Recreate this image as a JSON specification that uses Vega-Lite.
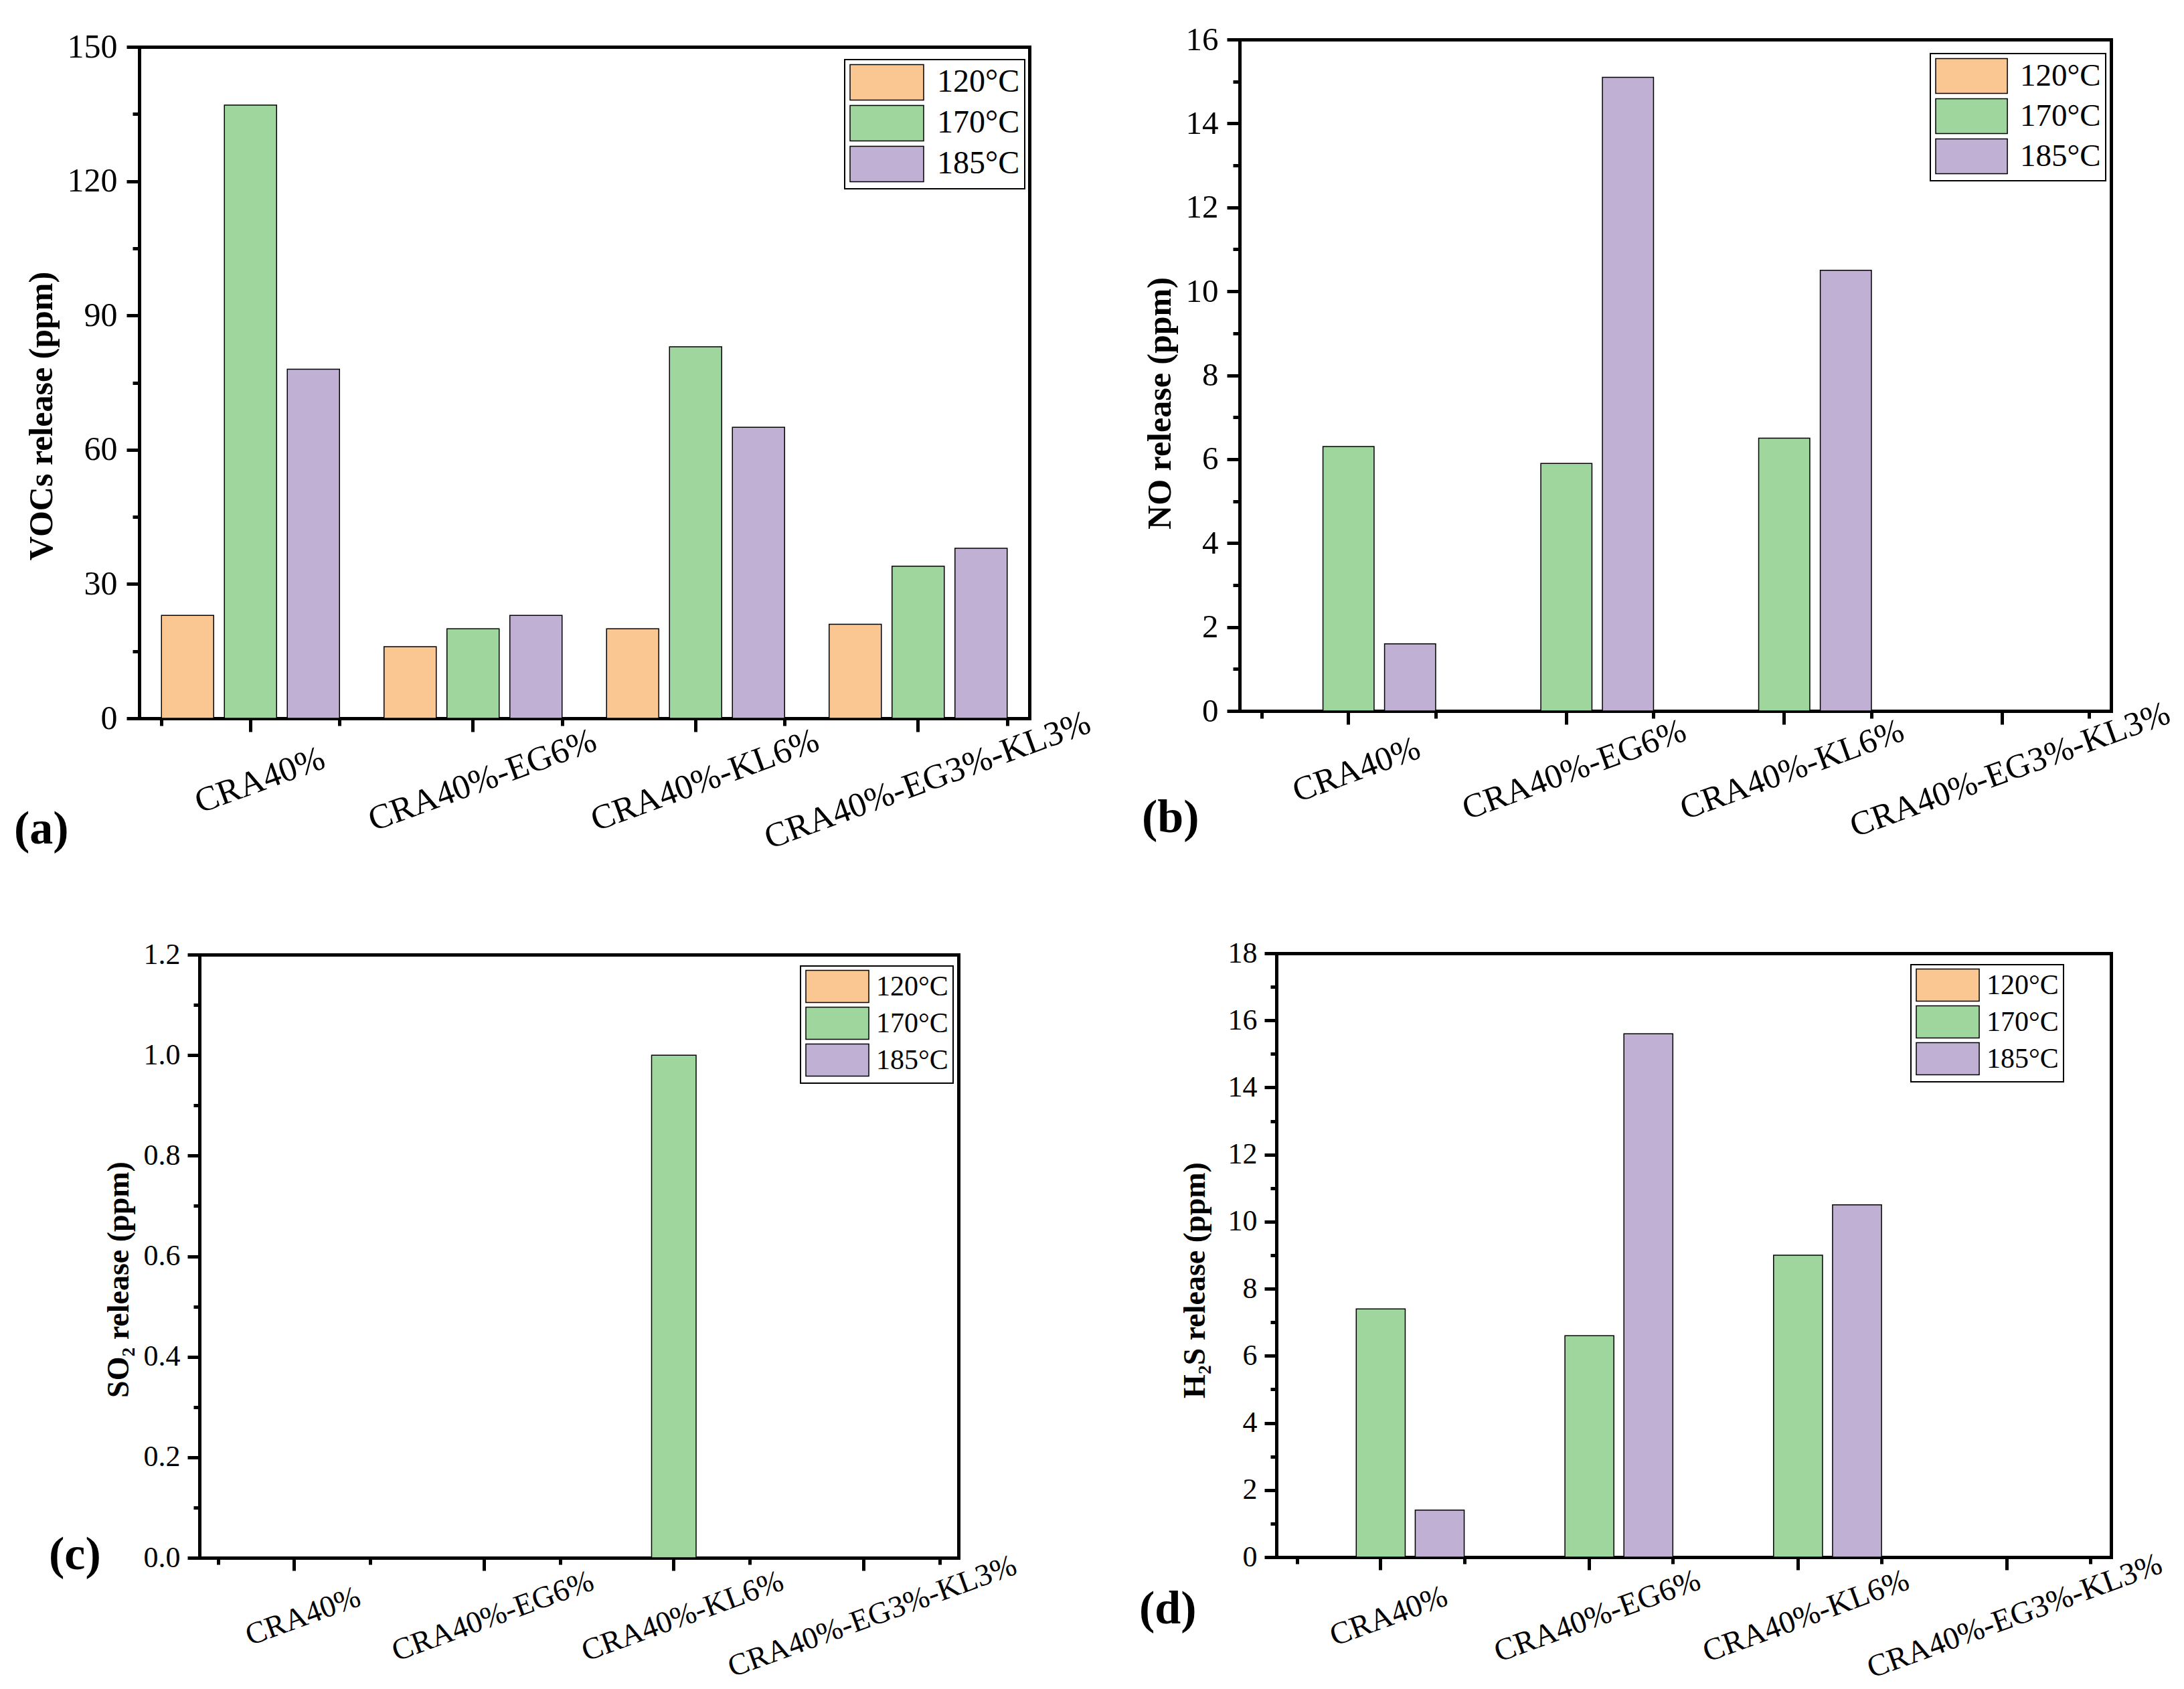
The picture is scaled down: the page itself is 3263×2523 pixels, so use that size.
{
  "$schema": "https://vega.github.io/schema/vega-lite/v6.json",
  "background": "white",
  "padding": {"left": 208, "top": 59, "right": 3055, "bottom": 2464},
  "autosize": {"type": "none"},
  "datasets": {
    "voc": [
      {"cat": "CRA40%", "temp": "120°C", "v": 23},
      {"cat": "CRA40%", "temp": "170°C", "v": 137},
      {"cat": "CRA40%", "temp": "185°C", "v": 78},
      {"cat": "CRA40%-EG6%", "temp": "120°C", "v": 16},
      {"cat": "CRA40%-EG6%", "temp": "170°C", "v": 20},
      {"cat": "CRA40%-EG6%", "temp": "185°C", "v": 23},
      {"cat": "CRA40%-KL6%", "temp": "120°C", "v": 20},
      {"cat": "CRA40%-KL6%", "temp": "170°C", "v": 83},
      {"cat": "CRA40%-KL6%", "temp": "185°C", "v": 65},
      {"cat": "CRA40%-EG3%-KL3%", "temp": "120°C", "v": 21},
      {"cat": "CRA40%-EG3%-KL3%", "temp": "170°C", "v": 34},
      {"cat": "CRA40%-EG3%-KL3%", "temp": "185°C", "v": 38}
    ],
    "no": [
      {"cat": "CRA40%", "temp": "120°C", "v": 0},
      {"cat": "CRA40%", "temp": "170°C", "v": 6.3},
      {"cat": "CRA40%", "temp": "185°C", "v": 1.6},
      {"cat": "CRA40%-EG6%", "temp": "120°C", "v": 0},
      {"cat": "CRA40%-EG6%", "temp": "170°C", "v": 5.9},
      {"cat": "CRA40%-EG6%", "temp": "185°C", "v": 15.1},
      {"cat": "CRA40%-KL6%", "temp": "120°C", "v": 0},
      {"cat": "CRA40%-KL6%", "temp": "170°C", "v": 6.5},
      {"cat": "CRA40%-KL6%", "temp": "185°C", "v": 10.5},
      {"cat": "CRA40%-EG3%-KL3%", "temp": "120°C", "v": 0},
      {"cat": "CRA40%-EG3%-KL3%", "temp": "170°C", "v": 0},
      {"cat": "CRA40%-EG3%-KL3%", "temp": "185°C", "v": 0}
    ],
    "so2": [
      {"cat": "CRA40%", "temp": "120°C", "v": 0},
      {"cat": "CRA40%", "temp": "170°C", "v": 0},
      {"cat": "CRA40%", "temp": "185°C", "v": 0},
      {"cat": "CRA40%-EG6%", "temp": "120°C", "v": 0},
      {"cat": "CRA40%-EG6%", "temp": "170°C", "v": 0},
      {"cat": "CRA40%-EG6%", "temp": "185°C", "v": 0},
      {"cat": "CRA40%-KL6%", "temp": "120°C", "v": 0},
      {"cat": "CRA40%-KL6%", "temp": "170°C", "v": 1.0},
      {"cat": "CRA40%-KL6%", "temp": "185°C", "v": 0},
      {"cat": "CRA40%-EG3%-KL3%", "temp": "120°C", "v": 0},
      {"cat": "CRA40%-EG3%-KL3%", "temp": "170°C", "v": 0},
      {"cat": "CRA40%-EG3%-KL3%", "temp": "185°C", "v": 0}
    ],
    "h2s": [
      {"cat": "CRA40%", "temp": "120°C", "v": 0},
      {"cat": "CRA40%", "temp": "170°C", "v": 7.4},
      {"cat": "CRA40%", "temp": "185°C", "v": 1.4},
      {"cat": "CRA40%-EG6%", "temp": "120°C", "v": 0},
      {"cat": "CRA40%-EG6%", "temp": "170°C", "v": 6.6},
      {"cat": "CRA40%-EG6%", "temp": "185°C", "v": 15.6},
      {"cat": "CRA40%-KL6%", "temp": "120°C", "v": 0},
      {"cat": "CRA40%-KL6%", "temp": "170°C", "v": 9.0},
      {"cat": "CRA40%-KL6%", "temp": "185°C", "v": 10.5},
      {"cat": "CRA40%-EG3%-KL3%", "temp": "120°C", "v": 0},
      {"cat": "CRA40%-EG3%-KL3%", "temp": "170°C", "v": 0},
      {"cat": "CRA40%-EG3%-KL3%", "temp": "185°C", "v": 0}
    ]
  },
  "columns": 2,
  "align": "all",
  "bounds": "flush",
  "spacing": {"column": 314, "row": 351},
  "resolve": {
    "scale": {"x": "independent", "y": "independent", "xOffset": "independent", "color": "independent"},
    "axis": {"x": "independent", "y": "independent"},
    "legend": {"color": "independent"}
  },
  "concat": [
    {
      "width": 1330, "height": 1014,
      "title": {"text": "(a)", "orient": "bottom", "anchor": "start", "frame": "group", "dx": -187, "offset": -72},
      "data": {"name": "voc"},
      "layer": [
        {
          "mark": {"type": "bar", "stroke": "black", "strokeWidth": 1.5},
          "encoding": {
            "x": {"field": "cat", "type": "nominal", "title": null,
              "scale": {"domain": ["CRA40%", "CRA40%-EG6%", "CRA40%-KL6%", "CRA40%-EG3%-KL3%"], "range": [0, 1330], "paddingInner": 0.2, "paddingOuter": 0.1},
              "axis": {"orient": "bottom", "tickSize": 20, "labelAngle": -20, "labelAlign": "center", "labelBaseline": "middle", "labelPadding": 72, "labelOffset": 14, "labelFontSize": 52, "labelLimit": 1000, "labelOverlap": false, "labelBound": false}},
            "xOffset": {"field": "temp", "type": "nominal", "scale": {"domain": ["120°C", "170°C", "185°C"], "paddingInner": 0.17, "paddingOuter": 0}},
            "y": {"field": "v", "type": "quantitative", "title": "VOCs release (ppm)",
              "scale": {"domain": [0, 150], "range": [1014, 11], "nice": false, "zero": true},
              "axis": {"orient": "left", "values": [0, 30, 60, 90, 120, 150], "tickSize": 19, "labelPadding": 14, "labelFontSize": 50, "titleFontSize": 50, "titleFontWeight": "bold", "titleX": -146, "titleY": 562, "titleBaseline": "middle", "titleAlign": "center", "titleAngle": 270}},
            "color": {"field": "temp", "type": "nominal",
              "scale": {"domain": ["120°C", "170°C", "185°C"], "range": ["#FAC793", "#9FD69D", "#C0B1D4"]},
              "legend": {"title": null, "orient": "none", "legendX": 1054, "legendY": 30, "symbolType": "M-1,-1.02H3.23V1.02H-1Z", "symbolSize": 2704, "labelOffset": 77, "rowPadding": 1, "labelFontSize": 48}}
          }
        },
        {
          "mark": {"type": "bar", "opacity": 0},
          "encoding": {
            "x": {"field": "cat", "type": "nominal", "title": null,
              "scale": {"domain": ["CRA40%", "CRA40%-EG6%", "CRA40%-KL6%", "CRA40%-EG3%-KL3%"], "range": [0, 1330], "paddingInner": 0.2, "paddingOuter": 0.1},
              "axis": {"orient": "bottom", "tickBand": "extent", "tickSize": 11, "labels": false, "domain": false}},
            "y": {"field": "v", "type": "quantitative", "title": null,
              "scale": {"domain": [0, 150], "range": [1014, 11], "nice": false, "zero": true},
              "axis": {"orient": "left", "values": [15, 45, 75, 105, 135], "tickSize": 10, "labels": false, "domain": false}}
          }
        },
        {
          "mark": {"type": "bar", "opacity": 0},
          "encoding": {
            "x": {"field": "cat", "type": "nominal", "title": null,
              "scale": {"domain": ["CRA40%", "CRA40%-EG6%", "CRA40%-KL6%", "CRA40%-EG3%-KL3%"], "range": [0, 1330], "paddingInner": 0.2, "paddingOuter": 0.1},
              "axis": {"orient": "top", "ticks": false, "labels": false, "offset": -11}},
            "y": {"field": "v", "type": "quantitative", "title": null,
              "scale": {"domain": [0, 150], "range": [1014, 11], "nice": false, "zero": true},
              "axis": {"orient": "right", "ticks": false, "labels": false}}
          }
        }
      ],
      "resolve": {"axis": {"x": "independent", "y": "independent"}}
    },
    {
      "width": 1302, "height": 1003,
      "title": {"text": "(b)", "orient": "bottom", "anchor": "start", "frame": "group", "dx": -146, "offset": -72},
      "data": {"name": "no"},
      "layer": [
        {
          "mark": {"type": "bar", "stroke": "black", "strokeWidth": 1.5},
          "encoding": {
            "x": {"field": "cat", "type": "nominal", "title": null,
              "scale": {"domain": ["CRA40%", "CRA40%-EG6%", "CRA40%-KL6%", "CRA40%-EG3%-KL3%"], "range": [0, 1302], "paddingInner": 0.2, "paddingOuter": 0.1},
              "axis": {"orient": "bottom", "tickSize": 20, "labelAngle": -20, "labelAlign": "center", "labelBaseline": "middle", "labelPadding": 68, "labelOffset": 12, "labelFontSize": 51, "labelLimit": 1000, "labelOverlap": false, "labelBound": false}},
            "xOffset": {"field": "temp", "type": "nominal", "scale": {"domain": ["120°C", "170°C", "185°C"], "paddingInner": 0.17, "paddingOuter": 0}},
            "y": {"field": "v", "type": "quantitative", "title": "NO release (ppm)",
              "scale": {"domain": [0, 16], "range": [1003, 0], "nice": false, "zero": true},
              "axis": {"orient": "left", "values": [0, 2, 4, 6, 8, 10, 12, 14, 16], "tickSize": 19, "labelPadding": 13, "labelFontSize": 49, "titleFontSize": 50, "titleFontWeight": "bold", "titleX": -119, "titleY": 543, "titleBaseline": "middle", "titleAlign": "center", "titleAngle": 270}},
            "color": {"field": "temp", "type": "nominal",
              "scale": {"domain": ["120°C", "170°C", "185°C"], "range": ["#FAC793", "#9FD69D", "#C0B1D4"]},
              "legend": {"title": null, "orient": "none", "legendX": 1032, "legendY": 21, "symbolType": "M-1,-1.02H3.2V1.02H-1Z", "symbolSize": 2601, "labelOffset": 74, "rowPadding": 1, "labelFontSize": 47}}
          }
        },
        {
          "mark": {"type": "bar", "opacity": 0},
          "encoding": {
            "x": {"field": "cat", "type": "nominal", "title": null,
              "scale": {"domain": ["CRA40%", "CRA40%-EG6%", "CRA40%-KL6%", "CRA40%-EG3%-KL3%"], "range": [0, 1302], "paddingInner": 0.2, "paddingOuter": 0.1},
              "axis": {"orient": "bottom", "tickBand": "extent", "tickSize": 11, "labels": false, "domain": false}},
            "y": {"field": "v", "type": "quantitative", "title": null,
              "scale": {"domain": [0, 16], "range": [1003, 0], "nice": false, "zero": true},
              "axis": {"orient": "left", "values": [1, 3, 5, 7, 9, 11, 13, 15], "tickSize": 10, "labels": false, "domain": false}}
          }
        },
        {
          "mark": {"type": "bar", "opacity": 0},
          "encoding": {
            "x": {"field": "cat", "type": "nominal", "title": null,
              "scale": {"domain": ["CRA40%", "CRA40%-EG6%", "CRA40%-KL6%", "CRA40%-EG3%-KL3%"], "range": [0, 1302], "paddingInner": 0.2, "paddingOuter": 0.1},
              "axis": {"orient": "top", "ticks": false, "labels": false}},
            "y": {"field": "v", "type": "quantitative", "title": null,
              "scale": {"domain": [0, 16], "range": [1003, 0], "nice": false, "zero": true},
              "axis": {"orient": "right", "ticks": false, "labels": false}}
          }
        }
      ],
      "resolve": {"axis": {"x": "independent", "y": "independent"}}
    },
    {
      "width": 1224, "height": 903,
      "title": {"text": "(c)", "orient": "bottom", "anchor": "start", "frame": "group", "dx": -135, "offset": -224},
      "data": {"name": "so2"},
      "layer": [
        {
          "mark": {"type": "bar", "stroke": "black", "strokeWidth": 1.5},
          "encoding": {
            "x": {"field": "cat", "type": "nominal", "title": null,
              "scale": {"domain": ["CRA40%", "CRA40%-EG6%", "CRA40%-KL6%", "CRA40%-EG3%-KL3%"], "range": [90, 1224], "paddingInner": 0.2, "paddingOuter": 0.1},
              "axis": {"orient": "bottom", "tickSize": 19, "labelAngle": -20, "labelAlign": "center", "labelBaseline": "middle", "labelPadding": 68, "labelOffset": 13, "labelFontSize": 46, "labelLimit": 1000, "labelOverlap": false, "labelBound": false}},
            "xOffset": {"field": "temp", "type": "nominal", "scale": {"domain": ["120°C", "170°C", "185°C"], "paddingInner": 0.17, "paddingOuter": 0}},
            "y": {"field": "v", "type": "quantitative", "title": "SO₂ release (ppm)",
              "scale": {"domain": [0, 1.2], "range": [903, 2], "nice": false, "zero": true},
              "axis": {"orient": "left", "offset": -90, "values": [0, 0.2, 0.4, 0.6, 0.8, 1.0, 1.2], "format": ".1f", "tickSize": 18, "labelPadding": 11, "labelFontSize": 44, "titleFontSize": 46, "titleFontWeight": "bold", "titleX": -121, "titleY": 487, "titleBaseline": "middle", "titleAlign": "center", "titleAngle": 270}},
            "color": {"field": "temp", "type": "nominal",
              "scale": {"domain": ["120°C", "170°C", "185°C"], "range": ["#FAC793", "#9FD69D", "#C0B1D4"]},
              "legend": {"title": null, "orient": "none", "legendX": 988, "legendY": 19, "symbolType": "M-1,-1.07H3.18V1.07H-1Z", "symbolSize": 2025, "labelOffset": 59, "rowPadding": 0, "labelFontSize": 42}}
          }
        },
        {
          "mark": {"type": "bar", "opacity": 0},
          "encoding": {
            "x": {"field": "cat", "type": "nominal", "title": null,
              "scale": {"domain": ["CRA40%", "CRA40%-EG6%", "CRA40%-KL6%", "CRA40%-EG3%-KL3%"], "range": [90, 1224], "paddingInner": 0.2, "paddingOuter": 0.1},
              "axis": {"orient": "bottom", "tickBand": "extent", "tickSize": 10, "labels": false, "domain": false}},
            "y": {"field": "v", "type": "quantitative", "title": null,
              "scale": {"domain": [0, 1.2], "range": [903, 2], "nice": false, "zero": true},
              "axis": {"orient": "left", "offset": -90, "values": [0.1, 0.3, 0.5, 0.7, 0.9, 1.1], "tickSize": 9, "labels": false, "domain": false}}
          }
        },
        {
          "mark": {"type": "bar", "opacity": 0},
          "encoding": {
            "x": {"field": "cat", "type": "nominal", "title": null,
              "scale": {"domain": ["CRA40%", "CRA40%-EG6%", "CRA40%-KL6%", "CRA40%-EG3%-KL3%"], "range": [90, 1224], "paddingInner": 0.2, "paddingOuter": 0.1},
              "axis": {"orient": "top", "ticks": false, "labels": false, "offset": -2}},
            "y": {"field": "v", "type": "quantitative", "title": null,
              "scale": {"domain": [0, 1.2], "range": [903, 2], "nice": false, "zero": true},
              "axis": {"orient": "right", "ticks": false, "labels": false}}
          }
        }
      ],
      "resolve": {"axis": {"x": "independent", "y": "independent"}}
    },
    {
      "width": 1302, "height": 902,
      "title": {"text": "(d)", "orient": "bottom", "anchor": "start", "frame": "group", "dx": -150, "offset": -145},
      "data": {"name": "h2s"},
      "layer": [
        {
          "mark": {"type": "bar", "stroke": "black", "strokeWidth": 1.5},
          "encoding": {
            "x": {"field": "cat", "type": "nominal", "title": null,
              "scale": {"domain": ["CRA40%", "CRA40%-EG6%", "CRA40%-KL6%", "CRA40%-EG3%-KL3%"], "range": [55, 1302], "paddingInner": 0.2, "paddingOuter": 0.1},
              "axis": {"orient": "bottom", "tickSize": 19, "labelAngle": -20, "labelAlign": "center", "labelBaseline": "middle", "labelPadding": 69, "labelOffset": 12, "labelFontSize": 47, "labelLimit": 1000, "labelOverlap": false, "labelBound": false}},
            "xOffset": {"field": "temp", "type": "nominal", "scale": {"domain": ["120°C", "170°C", "185°C"], "paddingInner": 0.17, "paddingOuter": 0}},
            "y": {"field": "v", "type": "quantitative", "title": "H₂S release (ppm)",
              "scale": {"domain": [0, 18], "range": [902, 0], "nice": false, "zero": true},
              "axis": {"orient": "left", "offset": -55, "values": [0, 2, 4, 6, 8, 10, 12, 14, 16, 18], "tickSize": 18, "labelPadding": 11, "labelFontSize": 44, "titleFontSize": 46, "titleFontWeight": "bold", "titleX": -122, "titleY": 488, "titleBaseline": "middle", "titleAlign": "center", "titleAngle": 270}},
            "color": {"field": "temp", "type": "nominal",
              "scale": {"domain": ["120°C", "170°C", "185°C"], "range": ["#FAC793", "#9FD69D", "#C0B1D4"]},
              "legend": {"title": null, "orient": "none", "legendX": 1003, "legendY": 17, "symbolType": "M-1,-1.07H3.18V1.07H-1Z", "symbolSize": 2025, "labelOffset": 59, "rowPadding": 0, "labelFontSize": 42}}
          }
        },
        {
          "mark": {"type": "bar", "opacity": 0},
          "encoding": {
            "x": {"field": "cat", "type": "nominal", "title": null,
              "scale": {"domain": ["CRA40%", "CRA40%-EG6%", "CRA40%-KL6%", "CRA40%-EG3%-KL3%"], "range": [55, 1302], "paddingInner": 0.2, "paddingOuter": 0.1},
              "axis": {"orient": "bottom", "tickBand": "extent", "tickSize": 10, "labels": false, "domain": false}},
            "y": {"field": "v", "type": "quantitative", "title": null,
              "scale": {"domain": [0, 18], "range": [902, 0], "nice": false, "zero": true},
              "axis": {"orient": "left", "offset": -55, "values": [1, 3, 5, 7, 9, 11, 13, 15, 17], "tickSize": 9, "labels": false, "domain": false}}
          }
        },
        {
          "mark": {"type": "bar", "opacity": 0},
          "encoding": {
            "x": {"field": "cat", "type": "nominal", "title": null,
              "scale": {"domain": ["CRA40%", "CRA40%-EG6%", "CRA40%-KL6%", "CRA40%-EG3%-KL3%"], "range": [55, 1302], "paddingInner": 0.2, "paddingOuter": 0.1},
              "axis": {"orient": "top", "ticks": false, "labels": false}},
            "y": {"field": "v", "type": "quantitative", "title": null,
              "scale": {"domain": [0, 18], "range": [902, 0], "nice": false, "zero": true},
              "axis": {"orient": "right", "ticks": false, "labels": false}}
          }
        }
      ],
      "resolve": {"axis": {"x": "independent", "y": "independent"}}
    }
  ],
  "config": {
    "view": {"stroke": null},
    "font": "Liberation Serif",
    "axis": {
      "labelFont": "Liberation Serif", "titleFont": "Liberation Serif",
      "labelColor": "black", "titleColor": "black", "tickColor": "black", "domainColor": "black",
      "tickWidth": 5, "domainWidth": 5, "domainCap": "square", "grid": false, "zindex": 1
    },
    "legend": {
      "fillColor": "white", "strokeColor": "black", "strokeWidth": 2, "padding": 7,
      "symbolStrokeColor": "black", "symbolStrokeWidth": 1.5, "symbolOpacity": 1,
      "labelFont": "Liberation Serif", "labelColor": "black", "labelLimit": 500
    },
    "title": {"font": "Liberation Serif", "fontSize": 70, "fontWeight": "bold", "color": "black"}
  }
}
